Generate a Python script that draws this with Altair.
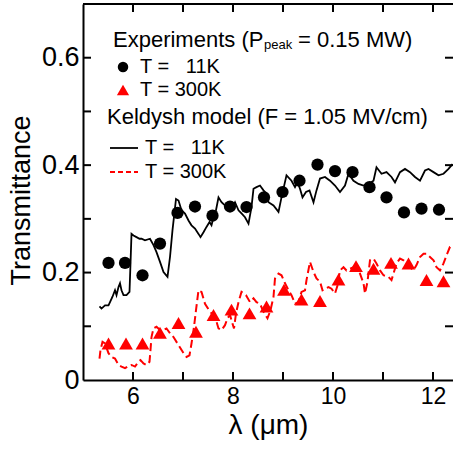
import altair as alt
import pandas as pd

# ---------------- data ----------------
circ_x = [5.51, 5.84, 6.19, 6.54, 6.89, 7.24, 7.59, 7.94, 8.27, 8.62,
          8.99, 9.33, 9.69, 10.04, 10.39, 10.73, 11.07, 11.42, 11.77, 12.12]
circ_y = [0.218, 0.218, 0.195, 0.254, 0.311, 0.323, 0.306, 0.323, 0.322, 0.340,
          0.350, 0.371, 0.401, 0.389, 0.387, 0.359, 0.340, 0.312, 0.319, 0.317]

tri_x = [5.51, 5.86, 6.19, 6.54, 6.91, 7.26, 7.61, 7.97, 8.33, 8.67,
         9.02, 9.37, 9.74, 10.11, 10.46, 10.81, 11.16, 11.51, 11.87, 12.21]
tri_y = [0.068, 0.068, 0.068, 0.088, 0.106, 0.090, 0.121, 0.131, 0.124, 0.137,
         0.168, 0.150, 0.147, 0.187, 0.212, 0.207, 0.218, 0.217, 0.186, 0.184]

black_x = [5.33, 5.37, 5.44, 5.51, 5.54, 5.59, 5.64, 5.67, 5.71, 5.74, 5.77, 5.81,
           5.87, 5.93, 5.95, 5.97, 6.01, 6.07, 6.13, 6.17, 6.24, 6.34, 6.41, 6.47,
           6.54, 6.61, 6.69, 6.74, 6.79, 6.86, 6.91, 6.97, 7.04, 7.11, 7.17, 7.24,
           7.31, 7.35, 7.41, 7.47, 7.53, 7.57, 7.62, 7.66, 7.71, 7.77, 7.84, 7.91,
           7.97, 8.04, 8.11, 8.17, 8.24, 8.31, 8.37, 8.41, 8.47, 8.54, 8.61, 8.67,
           8.71, 8.81, 8.91, 8.97, 9.07, 9.17, 9.24, 9.29, 9.34, 9.39, 9.46, 9.53,
           9.61, 9.67, 9.74, 9.84, 9.94, 10.04, 10.14, 10.24, 10.31, 10.41, 10.51,
           10.61, 10.71, 10.81, 10.87, 10.97, 11.07, 11.17, 11.24, 11.34, 11.44,
           11.54, 11.64, 11.74, 11.84, 11.91, 12.01, 12.11, 12.21, 12.31, 12.39]
black_y = [0.137, 0.133, 0.139, 0.139, 0.145, 0.155, 0.167, 0.158, 0.173, 0.180, 0.167, 0.158,
           0.158, 0.164, 0.217, 0.272, 0.269, 0.266, 0.263, 0.263, 0.260, 0.263, 0.251, 0.238,
           0.220, 0.201, 0.192, 0.229, 0.279, 0.337, 0.334, 0.316, 0.310, 0.297, 0.288, 0.282,
           0.272, 0.266, 0.275, 0.285, 0.294, 0.288, 0.306, 0.316, 0.340, 0.331, 0.325, 0.328,
           0.319, 0.331, 0.316, 0.310, 0.303, 0.291, 0.322, 0.356, 0.359, 0.362, 0.353, 0.347,
           0.331, 0.325, 0.313, 0.340, 0.381, 0.371, 0.359, 0.368, 0.356, 0.340, 0.350, 0.353,
           0.331, 0.353, 0.375, 0.378, 0.371, 0.362, 0.350, 0.362, 0.384, 0.371, 0.365,
           0.362, 0.365, 0.371, 0.396, 0.384, 0.387, 0.378, 0.368, 0.387, 0.393,
           0.387, 0.378, 0.371, 0.390, 0.393, 0.387, 0.381, 0.384, 0.393, 0.402]

red_x = [5.33, 5.35, 5.39, 5.44, 5.51, 5.57, 5.64, 5.71, 5.77, 5.84, 5.91, 5.97,
         6.04, 6.11, 6.15, 6.21, 6.27, 6.33, 6.35, 6.37, 6.41, 6.47, 6.54, 6.61,
         6.67, 6.74, 6.81, 6.91, 7.01, 7.07, 7.13, 7.17, 7.22, 7.26, 7.31, 7.37,
         7.44, 7.54, 7.64, 7.71, 7.77, 7.84, 7.89, 7.94, 7.99, 8.02, 8.06, 8.11,
         8.17, 8.26, 8.34, 8.41, 8.47, 8.54, 8.61, 8.69, 8.75, 8.81, 8.84, 8.91,
         8.97, 9.04, 9.11, 9.17, 9.24, 9.31, 9.37, 9.44, 9.47, 9.54, 9.61, 9.67,
         9.74, 9.79, 9.84, 9.91, 9.97, 10.04, 10.09, 10.14, 10.21, 10.27, 10.34,
         10.41, 10.47, 10.54, 10.61, 10.64, 10.69, 10.74, 10.81, 10.87, 10.94,
         11.01, 11.11, 11.17, 11.21, 11.27, 11.34, 11.41, 11.47, 11.54, 11.61,
         11.67, 11.74, 11.81, 11.87, 11.94, 12.01, 12.07, 12.14, 12.21, 12.27,
         12.34, 12.39]
red_y = [0.040, 0.056, 0.071, 0.068, 0.050, 0.043, 0.040, 0.028, 0.025, 0.022, 0.026, 0.028,
         0.025, 0.034, 0.037, 0.031, 0.028, 0.034, 0.056, 0.080, 0.096, 0.099, 0.093, 0.093,
         0.096, 0.087, 0.080, 0.065, 0.050, 0.043, 0.046, 0.068, 0.099, 0.130, 0.167, 0.164,
         0.142, 0.127, 0.118, 0.096, 0.093, 0.102, 0.115, 0.121, 0.105, 0.096, 0.124, 0.145,
         0.164, 0.158, 0.145, 0.152, 0.145, 0.142, 0.127, 0.115, 0.130, 0.155, 0.189, 0.198,
         0.195, 0.180, 0.167, 0.158, 0.142, 0.145, 0.164, 0.167, 0.186, 0.220, 0.201, 0.189,
         0.183, 0.167, 0.170, 0.173, 0.170, 0.161, 0.176, 0.204, 0.210, 0.204, 0.207,
         0.210, 0.204, 0.198, 0.180, 0.161, 0.183, 0.223, 0.226, 0.217, 0.204,
         0.195, 0.192, 0.186, 0.198, 0.217, 0.226, 0.223, 0.217, 0.210, 0.204,
         0.214, 0.229, 0.235, 0.235, 0.229, 0.223, 0.210, 0.204, 0.217, 0.232,
         0.248, 0.251]

x_tick_labels = [6, 8, 10, 12]
x_minor = [6, 7, 8, 9, 10, 11, 12]
y_tick_labels = [0, 0.2, 0.4, 0.6]
y_minor = [0.1, 0.2, 0.3, 0.4, 0.5, 0.6]

# ---------------- layout ----------------
W, H = 370, 376
FONT = "Liberation Sans"
TL = 8  # inward tick length

x_scale = alt.Scale(domain=[5, 12.4], nice=False, zero=False)
y_scale = alt.Scale(domain=[0, 0.7], nice=False, zero=False)

x_axis = alt.Axis(values=x_tick_labels, ticks=False, grid=False, domain=True,
                  domainColor="black", domainWidth=2, labelFontSize=23, labelFont=FONT,
                  labelColor="black", labelPadding=5, title="λ (μm)", titleFont=FONT,
                  titleFontSize=28, titleFontWeight="normal", titleColor="black",
                  titleY=45, titleBaseline="middle", labelFlush=False)
y_axis = alt.Axis(values=y_tick_labels, ticks=False, grid=False, domain=True,
                  domainColor="black", domainWidth=2, labelFontSize=27, labelFont=FONT,
                  labelColor="black", labelPadding=4, title="Transmittance", titleFont=FONT,
                  titleFontSize=27, titleFontWeight="normal", titleColor="black",
                  titleX=-62, titleY=196, titleAngle=270, titleBaseline="middle",
                  titleAlign="center", labelFlush=False,
                  labelExpr="datum.value == 0 ? '0' : format(datum.value, '.1f')")


def X(f="x"):
    return alt.X(f"{f}:Q", scale=x_scale, axis=x_axis)


def Y(f="y"):
    return alt.Y(f"{f}:Q", scale=y_scale, axis=y_axis)


df_black = pd.DataFrame({"x": black_x, "y": black_y})
df_red = pd.DataFrame({"x": red_x, "y": red_y})
df_circ = pd.DataFrame({"x": circ_x, "y": circ_y})
df_tri = pd.DataFrame({"x": tri_x, "y": tri_y})
df_xt = pd.DataFrame({"x": x_minor})
df_yt = pd.DataFrame({"y": y_minor})
one = pd.DataFrame({"a": [0]})

black_line = alt.Chart(df_black).mark_line(color="black", strokeWidth=1.8, clip=True).encode(x=X(), y=Y())
red_line = alt.Chart(df_red).mark_line(color="#ff0000", strokeWidth=2, strokeDash=[8, 4], clip=True).encode(x=X(), y=Y())
circles = alt.Chart(df_circ).mark_point(shape="circle", filled=True, color="black", size=150, opacity=1).encode(x=X(), y=Y())
tris = alt.Chart(df_tri).mark_point(shape="triangle-up", filled=True, color="#ff0000", size=190, opacity=1).encode(x=X(), y=Y())

tick_style = dict(color="black", strokeWidth=2)
top_ticks = alt.Chart(df_xt).mark_rule(**tick_style).encode(x=X(), y=alt.value(0), y2=alt.value(TL))
bot_ticks = alt.Chart(df_xt).mark_rule(**tick_style).encode(x=X(), y=alt.value(H - TL), y2=alt.value(H))
left_ticks = alt.Chart(df_yt).mark_rule(**tick_style).encode(y=Y(), x=alt.value(0), x2=alt.value(TL))
right_ticks = alt.Chart(df_yt).mark_rule(**tick_style).encode(y=Y(), x=alt.value(W - TL), x2=alt.value(W))
top_border = alt.Chart(one).mark_rule(color="black", strokeWidth=2).encode(
    x=alt.value(0), x2=alt.value(W), y=alt.value(0))


def txt(s, px, py, size, align="left"):
    return alt.Chart(one).mark_text(text=s, font=FONT, fontSize=size, color="black",
                                    align=align, baseline="middle").encode(
        x=alt.value(px), y=alt.value(py))


legend = [
    txt("Experiments (P", 30, 36, 22),
    txt("peak", 181, 41, 13),
    txt("= 0.15 MW)", 215, 36, 22),
    alt.Chart(one).mark_point(shape="circle", filled=True, color="black", size=110, opacity=1).encode(
        x=alt.value(40), y=alt.value(63)),
    txt("T = \u00a0\u00a011K", 57, 63, 20),
    alt.Chart(one).mark_point(shape="triangle-up", filled=True, color="#ff0000", size=150, opacity=1).encode(
        x=alt.value(40), y=alt.value(86)),
    txt("T = 300K", 57, 86, 20),
    txt("Keldysh model (F = 1.05 MV/cm)", 24, 113, 22),
    alt.Chart(one).mark_rule(color="black", strokeWidth=1.8).encode(
        x=alt.value(27), x2=alt.value(55), y=alt.value(144)),
    txt("T = \u00a0\u00a011K", 62, 144, 20),
    alt.Chart(one).mark_rule(color="#ff0000", strokeWidth=2, strokeDash=[5, 3]).encode(
        x=alt.value(27), x2=alt.value(55), y=alt.value(168)),
    txt("T = 300K", 62, 168, 20),
]

chart = alt.layer(
    black_line, red_line, circles, tris,
    top_ticks, bot_ticks, left_ticks, right_ticks, top_border,
    *legend
).properties(
    width=W, height=H,
    autosize=alt.AutoSizeParams(type="none"),
    padding={"left": 83, "top": 4, "right": 0, "bottom": 69},
).configure_view(stroke=None).configure(background="white")

chart.save("out.html", embed_options={"renderer": "svg", "actions": False})
